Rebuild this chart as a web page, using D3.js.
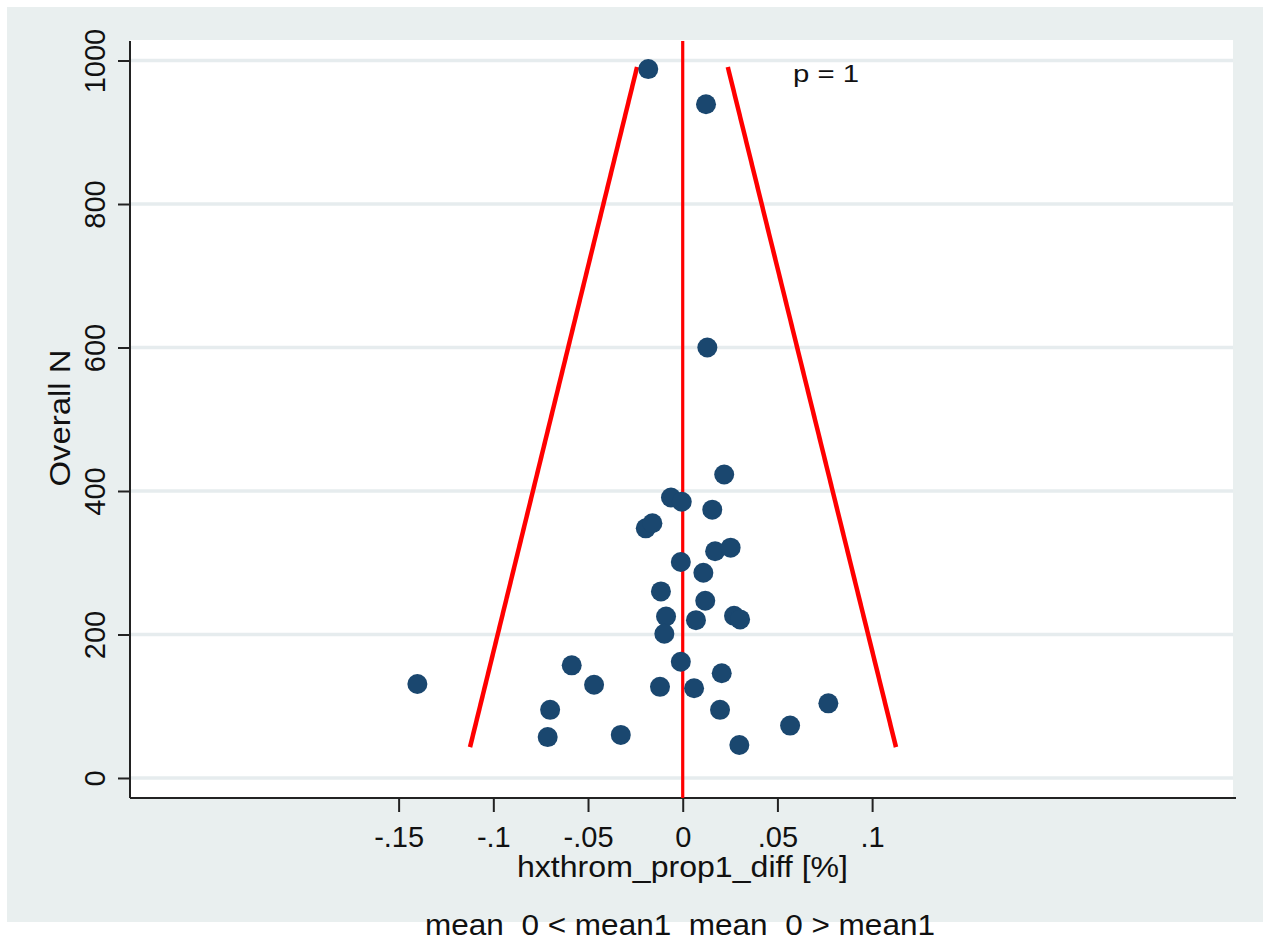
<!DOCTYPE html>
<html><head><meta charset="utf-8">
<script src="https://cdn.jsdelivr.net/npm/d3@7"></script>
<style>
body{margin:0;background:#fff;}
svg{display:block;font-family:"Liberation Sans",Arial,sans-serif;}
</style></head>
<body><svg id="c" width="1263" height="945"></svg>
<script>
// Study points: difference (x) and overall N (y)
const diffs = [-0.0182,0.0123,0.0130,0.0219,-0.0062,-0.0005,0.0156,-0.0195,-0.0160,0.0171,0.0253,-0.0010,0.0109,-0.0115,0.0119,-0.0088,0.0070,0.0271,0.0303,-0.0097,-0.0010,0.0206,-0.0120,0.0060,0.0197,-0.0327,0.0299,-0.0468,-0.0586,-0.0700,-0.0713,0.0567,0.0769,-0.1401];
const sizes = [988,939,600,423,391,385,374,348,355,316,321,301,286,260,247,225,220,226,221,201,162,146,127,125,95,60,46,130,157,95,57,73,104,131];
// Funnel limits (x, N)
const leftLimit = [[-0.1123,43],[-0.0241,991]];
const rightLimit = [[0.0238,991],[0.1126,43]];
const meanLine = [[0,-27.9],[0,1027.2]];
const xTicks = [-0.15,-0.1,-0.05,0,0.05,0.1];
const xTickLabels = ["-.15","-.1","-.05","0",".05",".1"];
const yTicks = [0,200,400,600,800,1000];
const xTitle = "hxthrom_prop1_diff [%]";
const yTitle = "Overall N";
const pText = "p = 1";
const note = "mean  0 < mean1  mean  0 > mean1";

const svg = d3.select("#c");
const L=130, R=1236, T=41, B=798;
const x = d3.scaleLinear().domain([-0.29183,0.29213]).range([L,R]);
const y = d3.scaleLinear().domain([-27.9,1027.2]).range([B,T]);

svg.append("rect").attr("x",7).attr("y",7).attr("width",1256).attr("height",915).attr("fill","#e9efef");
svg.append("rect").attr("x",L).attr("y",T-1).attr("width",1233-L).attr("height",B-T+1).attr("fill","#fff");

// gridlines
svg.append("g").selectAll("line").data(yTicks).join("line")
  .attr("x1",L).attr("x2",1233).attr("y1",d=>y(d)).attr("y2",d=>y(d))
  .attr("stroke","#e6ecee").attr("stroke-width",3.5);

// axes
const yAxis = d3.axisLeft(y).tickValues(yTicks).tickSize(12).tickPadding(14).tickFormat(d3.format("d"));
const gy = svg.append("g").attr("transform",`translate(${L},0)`).call(yAxis);
gy.select(".domain").attr("stroke","#222").attr("stroke-width",2).attr("d",`M0,${T}V${B}`);
gy.selectAll(".tick line").attr("stroke","#222").attr("stroke-width",2);
gy.selectAll(".tick text").attr("font-size",29).attr("fill","#111").attr("font-family","Liberation Sans, Arial")
  .attr("text-anchor","middle").attr("dy",0).attr("x",0).attr("y",0)
  .attr("transform","translate(-25,0) rotate(-90)");

const xAxis = d3.axisBottom(x).tickValues(xTicks).tickSize(14).tickPadding(8).tickFormat((d,i)=>xTickLabels[i]);
const gx = svg.append("g").attr("transform",`translate(0,${B})`).call(xAxis);
gx.select(".domain").attr("stroke","#222").attr("stroke-width",2).attr("d",`M${L},0H${R}`);
gx.selectAll(".tick line").attr("stroke","#222").attr("stroke-width",2);
gx.selectAll(".tick text").attr("font-size",29).attr("fill","#111").attr("font-family","Liberation Sans, Arial")
  .attr("dy",0).attr("y",48.5);

// red lines
const line = d3.line().x(d=>x(d[0])).y(d=>y(d[1]));
svg.append("path").attr("d",line(meanLine)).attr("stroke","#ff0000").attr("stroke-width",3.2).attr("fill","none");
svg.append("path").attr("d",line(leftLimit)).attr("stroke","#ff0000").attr("stroke-width",4.5).attr("fill","none");
svg.append("path").attr("d",line(rightLimit)).attr("stroke","#ff0000").attr("stroke-width",4.5).attr("fill","none");

// points
svg.append("g").selectAll("circle").data(diffs.map((d,i)=>[d,sizes[i]])).join("circle")
  .attr("cx",d=>x(d[0])).attr("cy",d=>y(d[1])).attr("r",10).attr("fill","#1a476f");

// texts
svg.append("text").attr("x",793).attr("y",82).attr("font-size",23).attr("fill","#111")
  .attr("textLength",66).attr("lengthAdjust","spacingAndGlyphs").text(pText);
svg.append("text").attr("x",682.5).attr("y",877).attr("text-anchor","middle").attr("font-size",29).attr("fill","#111")
  .attr("textLength",331).attr("lengthAdjust","spacingAndGlyphs").text(xTitle);
svg.append("text").attr("transform","translate(70,418) rotate(-90)").attr("text-anchor","middle").attr("font-size",29).attr("fill","#111")
  .attr("textLength",137).attr("lengthAdjust","spacingAndGlyphs").text(yTitle);
svg.append("text").attr("x",680).attr("y",935).attr("text-anchor","middle").attr("font-size",29).attr("fill","#111")
  .attr("xml:space","preserve").style("white-space","pre")
  .attr("textLength",510).attr("lengthAdjust","spacingAndGlyphs").text(note);
</script></body></html>
